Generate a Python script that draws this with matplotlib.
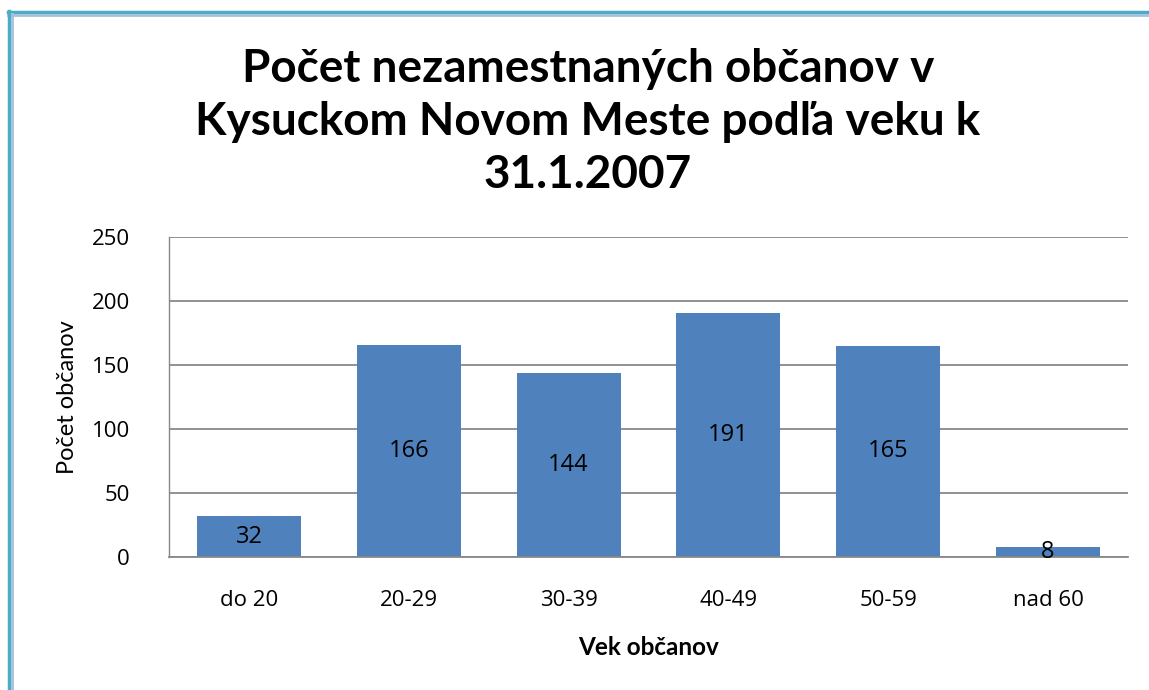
import matplotlib
matplotlib.use("Agg")
import matplotlib.pyplot as plt
from matplotlib.lines import Line2D

categories = ["do 20", "20-29", "30-39", "40-49", "50-59", "nad 60"]
values = [32, 166, 144, 191, 165, 8]
yticks = [0, 50, 100, 150, 200, 250]
title = "Počet nezamestnaných občanov v\nKysuckom Novom Meste podľa veku k\n31.1.2007"
xlabel = "Vek občanov"
ylabel = "Počet občanov"

plt.rcParams['font.family'] = ['Open Sans', 'DejaVu Sans']

W, H = 1149, 690
fig = plt.figure(figsize=(W / 100, H / 100), dpi=100)
fig.patch.set_facecolor("white")

# frame border (teal + light blue)
fig.add_artist(Line2D([8 / W, 1], [1 - 11.5 / H, 1 - 11.5 / H], color="#4BACC6", lw=2.5))
fig.add_artist(Line2D([8 / W, 1], [1 - 15 / H, 1 - 15 / H], color="#A7C0DE", lw=2))
fig.add_artist(Line2D([8.5 / W, 8.5 / W], [0, 1 - 10.5 / H], color="#4BACC6", lw=2.5))
fig.add_artist(Line2D([12 / W, 12 / W], [0, 1 - 14 / H], color="#A7C0DE", lw=2))

ax = fig.add_axes([169 / W, 1 - 557 / H, (1128 - 169) / W, (557 - 237) / H])
x = list(range(len(categories)))
bars = ax.bar(x, values, width=0.65, color="#4F81BD", zorder=3)
ax.set_xlim(-0.5, len(categories) - 0.5)
ax.set_ylim(0, 250)
ax.set_yticks(yticks)
ax.set_xticks(x)
ax.set_xticklabels(categories, fontsize=16)
ax.set_yticklabels([str(t) for t in yticks], fontsize=16)
ax.tick_params(axis="both", length=0, colors="black")
ax.tick_params(axis="x", pad=24)
ax.tick_params(axis="y", pad=28)
ax.grid(axis="y", color="#888888", lw=1.3, zorder=0)
for s in ["top", "right"]:
    ax.spines[s].set_visible(False)
ax.spines["left"].set_color("#888888")
ax.spines["bottom"].set_color("#888888")
ax.spines["bottom"].set_linewidth(1.3)
ax.spines["left"].set_linewidth(1.0)
ax.spines["bottom"].set_zorder(4)

for b, v in zip(bars, values):
    ax.text(b.get_x() + b.get_width() / 2, v / 2, str(v), ha="center", va="center",
            fontsize=17, color="black", zorder=5)

ax.set_xlabel(xlabel, fontsize=17.5, fontweight="bold", family=["Lato", "DejaVu Sans"], labelpad=18)
ax.set_ylabel(ylabel, fontsize=17, family=["Lato", "DejaVu Sans"], labelpad=10)

fig.text(588 / W, 1 - 122 / H, title, ha="center", va="center", fontsize=33,
         fontweight="bold", family=["Lato", "DejaVu Sans"], linespacing=1.33)

fig.savefig("out.png", dpi=100)
